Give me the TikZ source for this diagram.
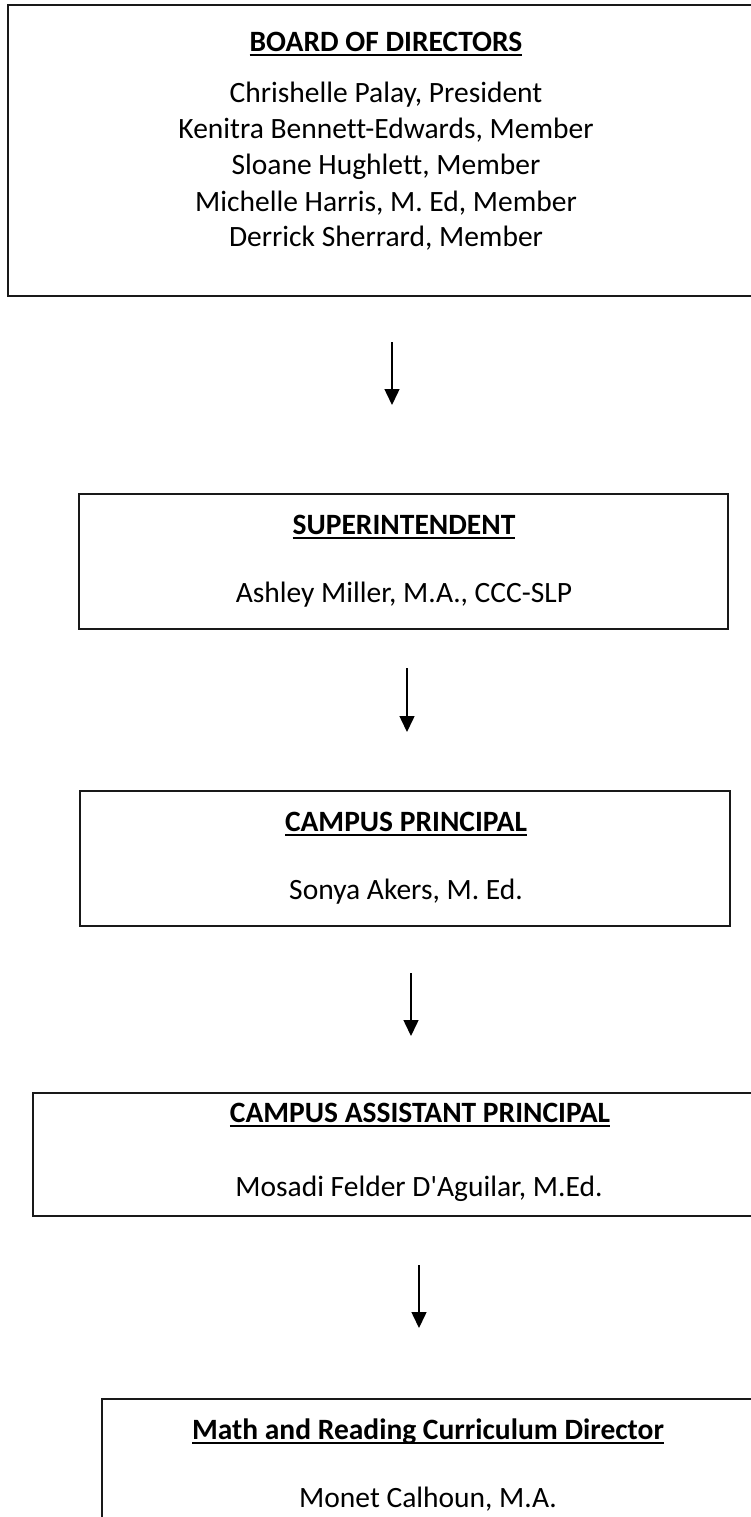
\documentclass[tikz,border=0pt]{standalone}
\usepackage{fontspec}
\setmainfont{Carlito}[Ligatures={TeXOff,NoCommon}]
\usetikzlibrary{arrows.meta}
\newcommand\myul[1]{\setbox0\hbox{#1}\rlap{\rule[-4.8pt]{\wd0}{1.9pt}}\box0}
\tikzset{
  box/.style={draw=black!90, line width=1.7pt, rectangle, inner sep=0pt},
  txt/.style={anchor=base, inner sep=0pt, font=\fontsize{29.5}{35}\selectfont},
  ttl/.style={anchor=base, inner sep=0pt, font=\fontsize{29.5}{35}\selectfont\bfseries},
  link/.style={line width=1.5pt, -{Triangle[width=15pt,length=16pt]}}
}
\begin{document}
\begin{tikzpicture}[x=1pt,y=-1pt]
\useasboundingbox (0,0) rectangle (751,1517);
\clip (0,0) rectangle (751,1517);
% boxes
\node[box, minimum width=756pt, minimum height=291pt] (board) at (386,150.5) {};
\node[box, minimum width=649pt, minimum height=135pt] (super) at (403.5,561.5) {};
\node[box, minimum width=650pt, minimum height=135pt] (campus) at (405,858.5) {};
\node[box, minimum width=774pt, minimum height=123pt] (assist) at (420,1154.5) {};
\node[box, minimum width=652pt, minimum height=132pt] (math) at (428,1465) {};
% texts
\node[ttl] (boardT) at (386,51.5) {\myul{BOARD OF DIRECTORS}};
\node[txt] (b1) at (386,102.5) {Chrishelle Palay, President};
\node[txt] (b2) at (386,138.5) {Kenitra Bennett-Edwards, Member};
\node[txt] (b3) at (386,174.5) {Sloane Hughlett, Member};
\node[txt] (b4) at (386,211.5) {Michelle Harris, M. Ed, Member};
\node[txt] (b5) at (386,246.5) {Derrick Sherrard, Member};
\node[ttl] (superT) at (404,534.5) {\myul{SUPERINTENDENT}};
\node[txt] (superN) at (404,602.5) {Ashley Miller, M.A., CCC-SLP};
\node[ttl] (campusT) at (406,831.5) {\myul{CAMPUS PRINCIPAL}};
\node[txt] (campusN) at (406,899.5) {Sonya Akers, M. Ed.};
\node[ttl] (assistT) at (420,1122.5) {\myul{CAMPUS ASSISTANT PRINCIPAL}};
\node[txt] (assistN) at (419,1196.5) {Mosadi Felder D'Aguilar, M.Ed.};
\node[ttl] (mathT) at (428,1439.5) {\myul{Math and Reading Curriculum Director}};
\node[txt] (mathN) at (428,1507.5) {Monet Calhoun, M.A.};
% arrows
\coordinate (a1s) at (392,342); \coordinate (a1e) at (392,405);
\coordinate (a2s) at (407,668); \coordinate (a2e) at (407,732);
\coordinate (a3s) at (411,973); \coordinate (a3e) at (411,1036);
\coordinate (a4s) at (419,1265); \coordinate (a4e) at (419,1328);
\draw[link] (a1s) -- (a1e);
\draw[link] (a2s) -- (a2e);
\draw[link] (a3s) -- (a3e);
\draw[link] (a4s) -- (a4e);
\end{tikzpicture}
\end{document}
